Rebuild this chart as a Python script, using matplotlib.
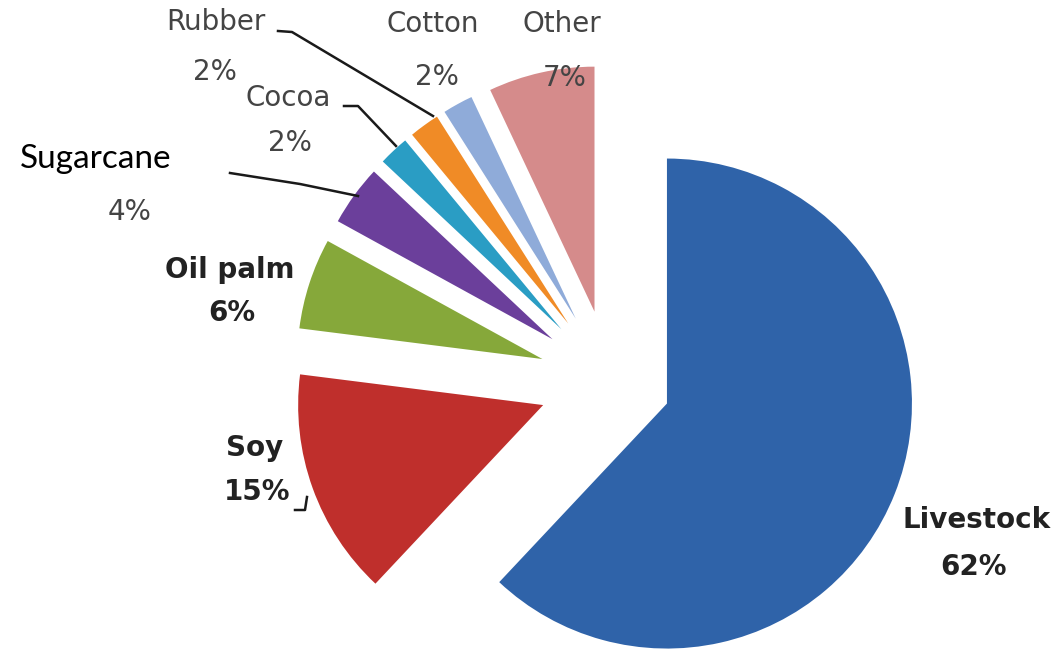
import matplotlib
matplotlib.use("Agg")
import matplotlib.pyplot as plt

# shares of deforestation by commodity
crops = ["Livestock", "Soy", "Oil palm", "Sugarcane", "Cocoa", "Rubber", "Cotton", "Other"]
shares = [62, 15, 6, 4, 2, 2, 2, 7]
colors = ["#2f63a9", "#bf2f2c", "#86a83a", "#6b3f9b", "#2a9dc4", "#f08b26", "#8fabd9", "#d58b8b"]
explode = [0.25, 0.29, 0.29, 0.29, 0.29, 0.29, 0.29, 0.29]

W, H = 1058, 660
R = 245
fig = plt.figure(figsize=(W / 100, H / 100), dpi=100)
ax = fig.add_axes([0, 0, 1, 1])

# pie explode is in data units, so scale by the radius
ax.pie(shares, colors=colors, explode=[e * R for e in explode], startangle=90,
       counterclock=False, center=(610, H - 381), radius=R, frame=True,
       wedgeprops=dict(linewidth=0))
ax.set_xlim(0, W)
ax.set_ylim(0, H)
ax.set_aspect("equal")
ax.axis("off")

bold = dict(fontsize=20, fontweight="bold", color="#222222", ha="center", va="center",
            family="DejaVu Sans")
light = dict(fontsize=20, fontweight="normal", color="#444444", ha="center", va="center",
             family="DejaVu Sans")

# label positions in image pixels (x, y from top): name, percent
pos = {
    "Livestock": ((977, 520), (973, 567), bold),
    "Soy": ((255, 448), (257, 492), bold),
    "Oil palm": ((230, 270), (232, 313), bold),
    "Cocoa": ((288, 98), (290, 143), light),
    "Rubber": ((216, 22), (215, 72), light),
    "Cotton": ((433, 24), (437, 77), light),
    "Other": ((562, 24), (565, 78), light),
}
for name, share in zip(crops, shares):
    if name == "Sugarcane":
        ax.text(20, H - 168, name, fontsize=24, family="Lato", color="black",
                ha="left", va="baseline")
        ax.text(130, H - 212, f"{share}%", **light)
        continue
    (x1, y1), (x2, y2), st = pos[name]
    ax.text(x1, H - y1, name, **st)
    ax.text(x2, H - y2, f"{share}%", **st)

# leader lines
leaders = [
    [(278, 31), (292, 32), (433, 116)],
    [(344, 106), (358, 106), (396, 146)],
    [(230, 173), (300, 184), (358, 196)],
    [(295, 510), (305, 510), (307, 497)],
]
for pts in leaders:
    xs = [p[0] for p in pts]
    ys = [H - p[1] for p in pts]
    ax.plot(xs, ys, color="#1a1a1a", lw=1.8)

fig.savefig("out.png", dpi=100)
